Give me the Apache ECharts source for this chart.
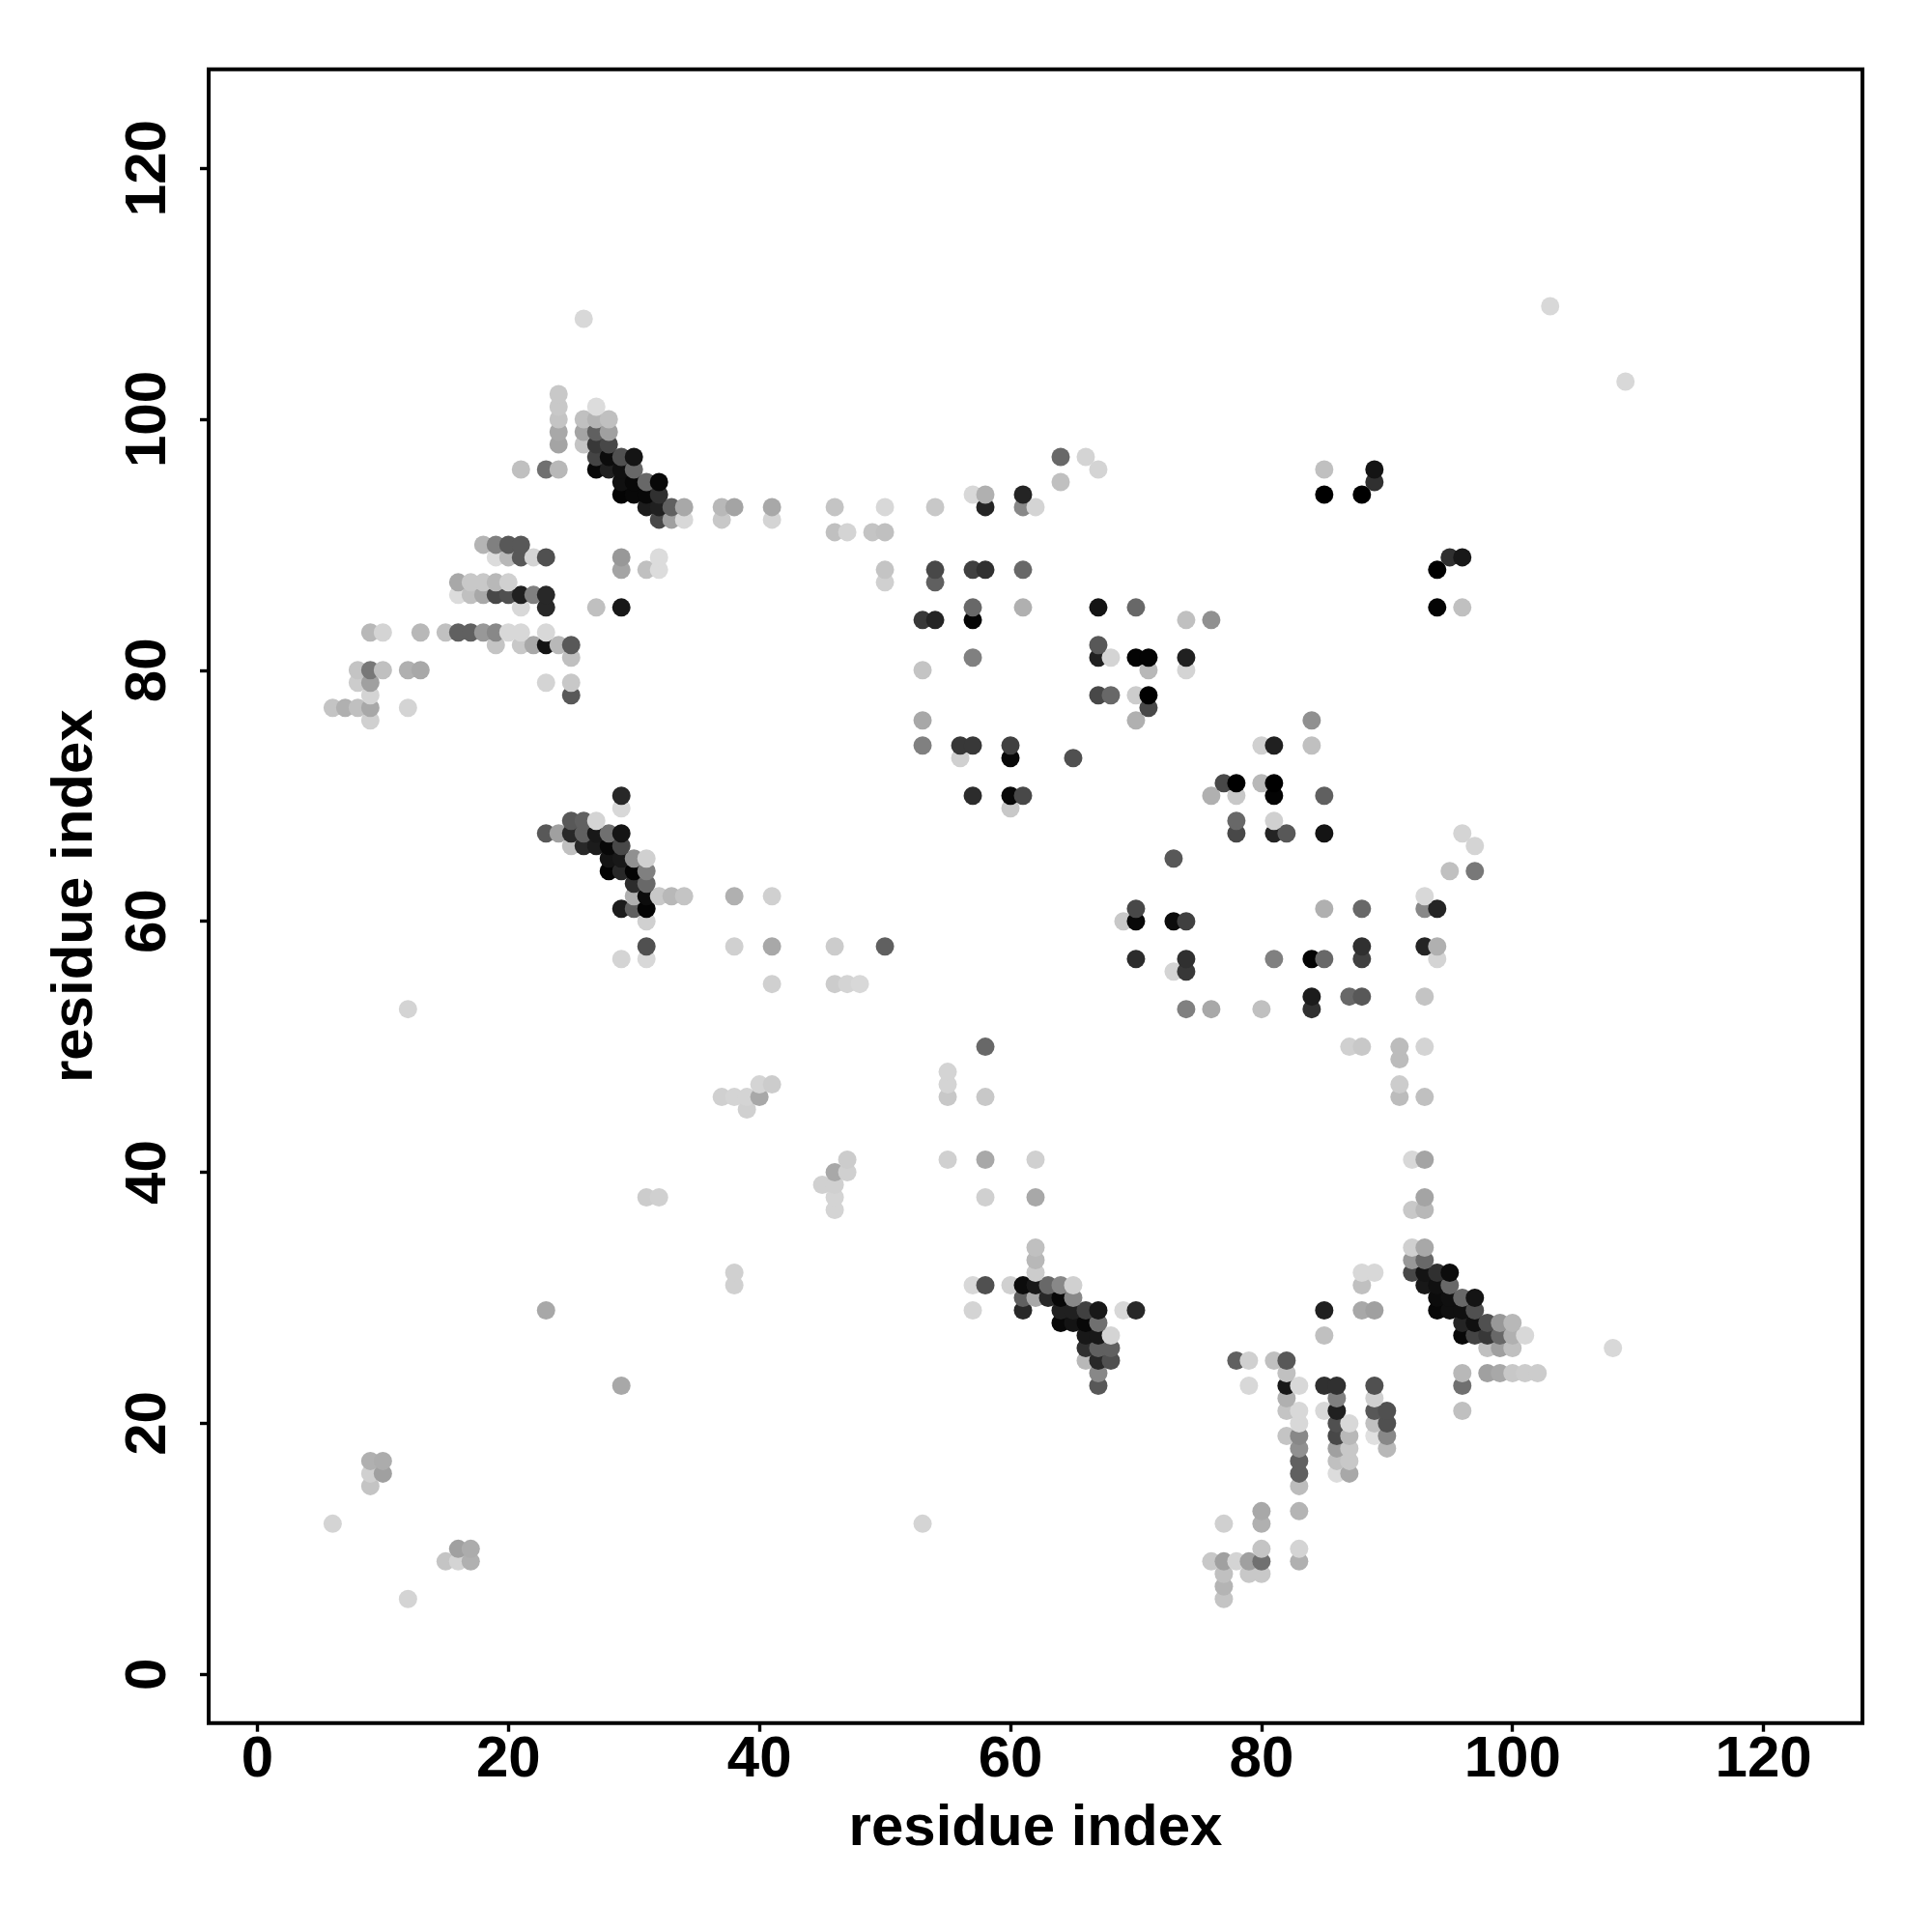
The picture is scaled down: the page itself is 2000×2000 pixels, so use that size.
<!DOCTYPE html>
<html>
<head>
<meta charset="utf-8">
<style>html,body{margin:0;padding:0;background:#fff}#c{width:2000px;height:2000px}</style>
<script src="https://cdn.jsdelivr.net/npm/echarts@6/dist/echarts.min.js"></script>
</head>
<body>
<div id="c"></div>
<script>
const axisTitle = 'residue index';
const tickValues = [0, 20, 40, 60, 80, 100, 120];
const axisMin = -3.88;
const axisMax = 127.88;
const rowY = [6,7,8,9,10,12,13,15,16,17,18,19,20,21,22,23,24,25,26,27,28,29,30,31,32,33,34,37,38,39,40,41,45,46,47,48,49,50,53,54,55,56,57,58,60,61,62,63,64,65,66,67,68,69,70,71,73,74,76,77,78,79,80,81,82,83,84,85,86,87,88,89,90,91,92,93,94,95,96,97,98,99,100,101,102,103,108,109];
const rowX = [
[12,77],
[77],
[77,79,80],
[15,16,17,76,77,78,79,80,83],
[16,17,80,83],
[6,53,77,80],
[80,83],
[9,83],
[9,10,83,86,87],
[9,10,83,86,87],
[83,86,87,90],
[82,83,86,87,89,90],
[83,86,87,89,90],
[82,83,85,86,89,90,96],
[82,86,89],
[29,67,79,82,83,85,86,89,96],
[67,82,96,98,99,100,101,102],
[66,67,68,78,79,81,82],
[66,67,68,98,99,100,108],
[66,67,68,85,96,97,98,99,100,101],
[64,65,66,67,96,97,98,99,100],
[23,57,61,64,65,66,67,69,70,85,88,89,94,95,96,97],
[61,62,63,64,65,94,95,96,97],
[38,57,58,60,61,62,63,64,65,88,93,94,95],
[38,62,88,89,92,93,94,95],
[62,92,93],
[62,92,93],
[46,92,93],
[31,32,46,58,62,93],
[45,46],
[46,47],
[47,55,58,62,92,93],
[39],
[37,38,39,40,55,58,91,93],
[40,41,55,91],
[55],
[91],
[58,87,88,91,93],
[12,74,76,80,84],
[84,87,88,93],
[41,46,47,48],
[73,74],
[29,31,70,74,81,84,85,88,94],
[31,38,41,46,50,88,93,94],
[31,69,70,73,74],
[29,30,31,70,85,88,93,94],
[30,31,32,33,34,38,41,93],
[30,31],
[28,29,30,31,95,97],
[28,29,30,31,73],
[25,26,27,28,29,97],
[23,24,25,26,27,28,29,78,81,82,85,96],
[25,26,27,78,81],
[29,60],
[29,57,60,61,76,78,81,85],
[77,78,80,81],
[56,60,65],
[53,56,57,60,80,81,84],
[9,53,70,84],
[6,7,8,9,12,71],
[9,25,67,68,70,71],
[8,9,23,25],
[8,9,10,12,13,53,71,74],
[25,57,67,68,70,71,74],
[19,21,22,23,24,25,67],
[9,10,13,15,16,17,18,19,20,21,23],
[53,54,57,74,76],
[21,23,27,29,57,61,67,70,94,96],
[16,17,18,19,20,21,22,23],
[16,17,18,19,20,50,54],
[29,31,32,50,54,57,58,61,94],
[19,20,21,22,23,29,32,95,96],
[18,19,20,21],
[46,47,49,50],
[32,33,34,37,41],
[31,32,33,34,37,38,41,46,50,54,58,61,62],
[29,30,31,32,57,58,61,85,88],
[29,30,31,32,64,89],
[21,23,24,27,28,29,30,67,85,89],
[27,28,29,30,64,66],
[24,26,27,28],
[24,26,27,28],
[24,26,27,28],
[24,27],
[24],
[109],
[26],
[103]
];
const rowGrey = [
['d4','c4'],
['b4'],
['c0','c8','c8'],
['c4','d4','b0','c8','a0','d4','a0','70','b0'],
['a0','ac','c4','d4'],
['d4','d4','d0','b0'],
['a8','b4'],
['c4','bc'],
['d0','a0','60','dc','a8'],
['b0','ac','60','c0','c8'],
['90','a0','c8','b8'],
['c4','88','48','b8','e0','88'],
['d8','50','d8','c0','50'],
['c4','d8','d8','20','58','50','c0'],
['b0','80','d0'],
['a8','58','d8','18','d8','30','30','50','70'],
['88','c0','b8','a0','a8','c8','cc','cc'],
['b8','28','50','60','d0','c0','58'],
['30','60','60','c0','a0','c0','d8'],
['18','18','d4','c0','08','44','38','68','b0','d8'],
['08','14','08','70','24','10','50','98','b8'],
['a8','d4','28','20','20','40','18','d8','28','20','a8','a0','08','10','10','50'],
['60','a8','28','08','88','0c','10','68','14'],
['d0','d8','50','d0','0c','18','68','88','d0','c0','18','10','68'],
['d0','cc','d8','d8','48','14','30','0c'],
['b8','98','68'],
['c0','d0','a8'],
['d4','c8','b8'],
['cc','d0','d4','d0','a8','a4'],
['d0','d0'],
['a8','d0'],
['cc','d0','a8','d0','d8','a4'],
['d0'],
['d0','d4','d4','a8','c8','c8','bc','c0'],
['d4','cc','d4','cc'],
['d4'],
['bc'],
['68','d0','c8','bc','d4'],
['d4','80','a8','c0','30'],
['1c','68','58','c4'],
['d0','cc','d4','d8'],
['d4','38'],
['d4','d8','2c','30','80','04','68','40','d4'],
['50','d0','a8','cc','60','30','24','b0'],
['d0','c8','08','0c','40'],
['1c','60','04','48','b0','68','88','24'],
['b0','0c','c8','b8','c4','b0','d0','d8'],
['2c','68'],
['04','28','04','80','c0','78'],
['14','18','90','d0','58'],
['c0','28','1c','08','48','d4'],
['58','a0','28','60','18','70','14','48','24','58','14','d4'],
['58','60','d4','68','d0'],
['d8','c8'],
['28','2c','08','48','b0','c8','04','60'],
['48','00','b8','00'],
['d0','08','50'],
['80','38','38','40','d0','20','c0'],
['d0','a8','b0','90'],
['c4','b0','c0','a8','d4','48'],
['d4','58','48','68','cc','00'],
['cc','a0','d4','c8'],
['c4','78','c0','b0','a8','c4','b8','d4'],
['c0','80','20','d4','04','04','20'],
['c4','c8','a8','14','b8','58','58'],
['b8','d4','b8','c0','60','60','98','88','d8','d8','d8'],
['38','24','04','c0','90'],
['d8','28','c0','18','68','b0','14','68','04','c0'],
['dc','c0','a8','48','50','20','80','28'],
['a8','c8','c8','b8','d0','d0','60'],
['a4','c0','dc','c4','48','40','30','68','00'],
['dc','b8','58','d4','50','98','dc','30','18'],
['b4','80','58','58'],
['c0','d4','c4','c0'],
['48','a0','d8','c8','d4'],
['1c','20','60','a8','b8','a4','a8','c4','d8','c8','24','88','d4'],
['04','08','08','30','d8','b0','24','00','00'],
['10','08','68','08','c0','30'],
['c0','70','b8','08','20','10','68','d4','c0','14'],
['44','0c','50','14','68','d4'],
['a4','c4','38','48'],
['a8','a4','60','a0'],
['c4','c0','b4','c0'],
['c8','dc'],
['c8'],
['d8'],
['d8'],
['d8']
];

rowY.forEach((y, i) => {
  if (rowX[i].length !== rowGrey[i].length) throw new Error('row length mismatch at y=' + y);
});
if (rowY.length !== rowX.length || rowX.length !== rowGrey.length) throw new Error('rows ' + rowY.length + ' ' + rowX.length + ' ' + rowGrey.length);

const pointData = [];
rowY.forEach((y, i) => {
  rowX[i].forEach((x, j) => {
    const g = rowGrey[i][j];
    pointData.push({ value: [x, y], itemStyle: { color: '#' + g + g + g } });
  });
});

const fontFamily = '"Liberation Sans", Arial, sans-serif';
const chart = echarts.init(document.getElementById('c'), null, { renderer: 'canvas' });
function axis(extra) {
  return Object.assign({
    type: 'value',
    min: axisMin,
    max: axisMax,
    name: axisTitle,
    nameLocation: 'middle',
    nameTextStyle: { color: '#000', fontFamily, fontWeight: 'bold', fontSize: 60 },
    splitLine: { show: false },
    axisLine: { show: false, onZero: false },
    axisTick: { show: true, length: 9, inside: false, customValues: tickValues, lineStyle: { color: '#000', width: 3.4 } }
  }, extra);
}
chart.setOption({
  animation: false,
  backgroundColor: '#fff',
  grid: { show: true, left: 216, top: 71.7, width: 1712, height: 1712, borderColor: '#000', borderWidth: 4, backgroundColor: 'transparent' },
  xAxis: axis({
    nameGap: 80,
    axisLabel: { customValues: tickValues, color: '#000', fontFamily, fontWeight: 'bold', fontSize: 60, margin: 9 }
  }),
  yAxis: axis({
    nameGap: 108,
    axisLabel: { customValues: tickValues, color: '#000', fontFamily, fontWeight: 'bold', fontSize: 60, rotate: 90, margin: 32 }
  }),
  series: [{
    type: 'scatter',
    symbol: 'circle',
    symbolSize: 19,
    data: pointData,
    itemStyle: { opacity: 1 },
    silent: true,
    large: false
  }]
});
</script>
</body>
</html>
